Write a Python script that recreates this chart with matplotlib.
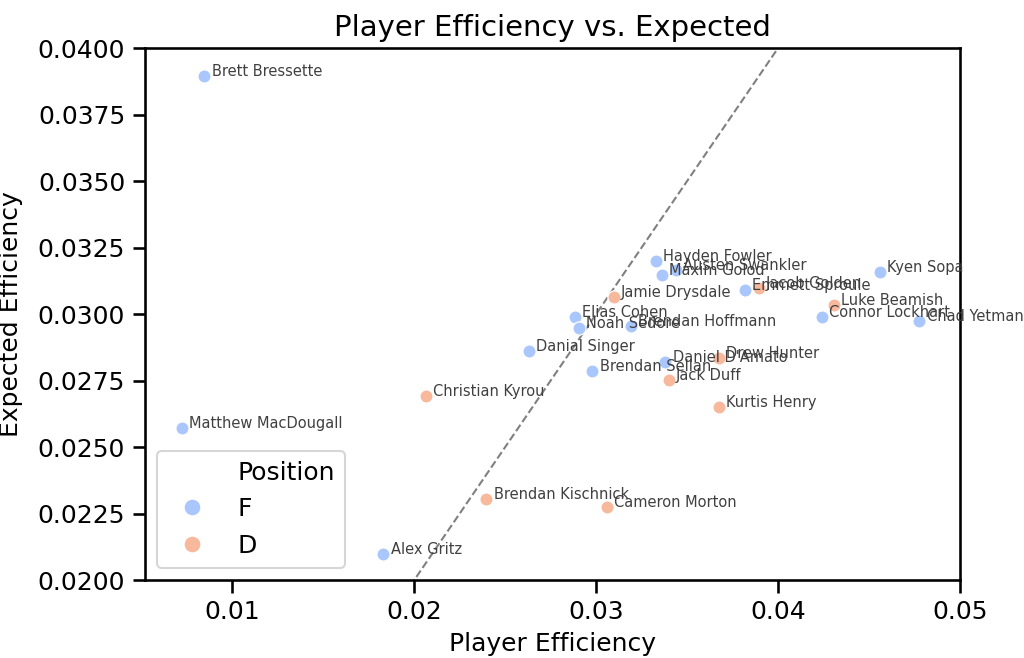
import numpy as np
import matplotlib
matplotlib.use("Agg")
import matplotlib.pyplot as plt
import seaborn as sns
from matplotlib.lines import Line2D

# player data
players = ["Brett Bressette", "Matthew MacDougall", "Alex Gritz", "Christian Kyrou",
           "Brendan Kischnick", "Cameron Morton", "Jack Duff", "Kurtis Henry",
           "Danial Singer", "Brendan Sellan", "Daniel D'Amato", "Drew Hunter",
           "Hayden Fowler", "Maxim Golod", "Austen Swankler", "Jamie Drysdale",
           "Emmett Sproule", "Jacob Golden", "Elias Cohen", "Noah Sedore",
           "Brendan Hoffmann", "Kyen Sopa", "Luke Beamish", "Connor Lockhart",
           "Chad Yetman"]
position = ["F", "F", "F", "D", "D", "D", "D", "D", "F", "F", "F", "D",
            "F", "F", "F", "D", "F", "D", "F", "F", "F", "F", "D", "F", "F"]
player_eff = [0.00846, 0.00723, 0.01831, 0.02062, 0.02396, 0.03059, 0.03399, 0.03674,
              0.02630, 0.02979, 0.03381, 0.03674, 0.03327, 0.03362, 0.03437, 0.03096,
              0.03819, 0.03894, 0.02882, 0.02905, 0.03190, 0.04560, 0.04307, 0.04242,
              0.04776]
expected_eff = [0.03895, 0.02573, 0.02098, 0.02693, 0.02303, 0.02274, 0.02751, 0.02650,
                0.02861, 0.02787, 0.02818, 0.02833, 0.03199, 0.03147, 0.03165, 0.03065,
                0.03090, 0.03099, 0.02990, 0.02948, 0.02955, 0.03159, 0.03034, 0.02990,
                0.02974]

sns.set_context("notebook")
pal = sns.color_palette("coolwarm", 2)
colors = {"F": pal[0], "D": pal[1]}

fig = plt.figure(figsize=(1024 / 150, 658 / 150), dpi=150)
ax = fig.add_axes([0.1416, 0.1185, 0.7959, 0.8085])

# y = x reference line
ax.plot([0, 0.05], [0, 0.05], "--", color="gray", linewidth=1)

for pos in ["F", "D"]:
    xs = [x for x, p in zip(player_eff, position) if p == pos]
    ys = [y for y, p in zip(expected_eff, position) if p == pos]
    ax.scatter(xs, ys, s=40, color=colors[pos], edgecolor="white", linewidth=0.6, zorder=3)

for name, x, y in zip(players, player_eff, expected_eff):
    ax.text(x + 0.0004, y, name, fontsize=7, color="#404040", zorder=4)

ax.set_xlim(0.0052, 0.05)
ax.set_ylim(0.02, 0.04)
ax.set_yticks(np.arange(0.02, 0.04001, 0.0025))
ax.set_xticks([0.01, 0.02, 0.03, 0.04, 0.05])
ax.tick_params(labelsize=12)
ax.set_xlabel("Player Efficiency", fontsize=12)
ax.set_ylabel("Expected Efficiency", fontsize=12, labelpad=7)
ax.set_title("Player Efficiency vs. Expected", fontsize=14)

handles = [Line2D([], [], linestyle="none", marker=None),
           Line2D([], [], linestyle="none", marker="o", markersize=8.5,
                  markerfacecolor=colors["F"], markeredgecolor="white"),
           Line2D([], [], linestyle="none", marker="o", markersize=8.5,
                  markerfacecolor=colors["D"], markeredgecolor="white")]
ax.legend(handles, ["Position", "F", "D"], loc="lower left", fontsize=12)

fig.savefig("out.png", dpi=150)
